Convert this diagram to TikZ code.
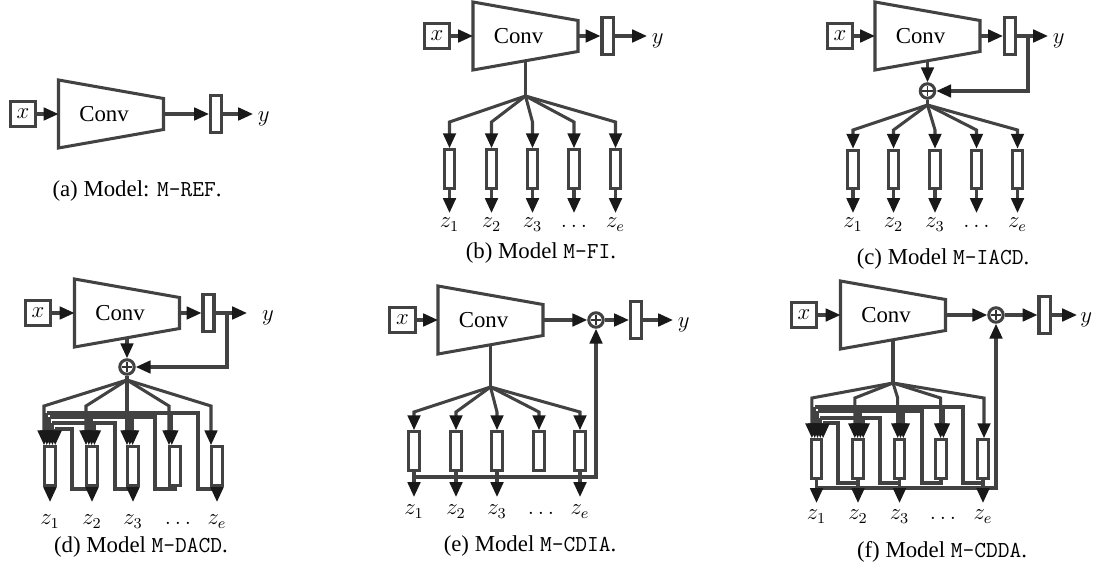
\documentclass[tikz,border=0pt]{standalone}
\usepackage{fontspec}
\setmainfont{Liberation Serif}
\usetikzlibrary{arrows.meta,calc}

\tikzset{
  wire/.style={draw=black!74, line width=1.6pt},
  warr/.style={wire, -{Triangle[length=7.8pt,width=6.6pt,color=black!90]}},
  xin/.style={wire, minimum width=13.5pt, minimum height=13.2pt, inner sep=0pt},
  featbar/.style={wire, minimum width=5.8pt, minimum height=19.6pt, inner sep=0pt},
  hbox/.style={wire, minimum width=5.6pt, minimum height=20.3pt, inner sep=0pt},
  addop/.style={wire, circle, minimum size=7.6pt, inner sep=0pt,
    path picture={\draw[black!80, line width=0.8pt]
      ([xshift=-2.7pt]path picture bounding box.center) -- ([xshift=2.7pt]path picture bounding box.center)
      ([yshift=-2.7pt]path picture bounding box.center) -- ([yshift=2.7pt]path picture bounding box.center);}},
  ylab/.style={anchor=west, inner ysep=0pt, inner xsep=#1, outer sep=0pt, yshift=-2.3pt},
  zlab/.style={anchor=north, inner xsep=0pt, inner ysep=#1, outer sep=0pt, text height=5.2pt, text depth=2.4pt},
  captxt/.style={anchor=base, inner sep=0pt},
  convtxt/.style={inner sep=0pt},
}

% convolutional trunk: name, centre x, centre y
\newcommand\convunit[3]{%
  \begin{scope}[shift={(#2,#3)}]
    \draw[wire, line join=miter] (-52.5,-34) -- (52.5,-15.5) -- (52.5,15.5) -- (-52.5,34) -- cycle;
    \node[convtxt] (#1) at (-7,0) {Conv};
    \coordinate (#1-w) at (-52.5,0);
    \coordinate (#1-e) at (52.5,0);
    \coordinate (#1-s) at (0,24.75);
  \end{scope}}

\begin{document}
\begin{tikzpicture}[x=0.526pt, y=-0.526pt, font=\large]
\useasboundingbox (0,0) rectangle (1096,568);

% ---------------- (a) M-REF
\node[xin] (a-x) at (23,114) {$x$};
\convunit{a-c}{111}{114}
\node[featbar] (a-bar) at (216,114) {};
\node[ylab=2.6pt] (a-y) at (253,114) {$y$};
\draw[warr] (a-x) -- (a-c-w);
\draw[warr] (a-c-e) -- (a-bar);
\draw[warr] (a-bar) -- (a-bar -| a-y.west);
\node[captxt] (a-cap) at (137,197) {(a) Model: \texttt{M-REF}.};

% ---------------- (b) M-FI
\node[xin] (b-x) at (437,36) {$x$};
\convunit{b-c}{525.5}{36}
\node[featbar] (b-bar) at (607.5,36) {};
\node[ylab=2.6pt] (b-y) at (647,36) {$y$};
\draw[warr] (b-x) -- (b-c-w);
\draw[warr] (b-c-e) -- (b-bar);
\draw[warr] (b-bar) -- (b-bar -| b-y.west);
\coordinate (b-br) at (525.5,96);
\coordinate (b-bend) at (0,122);
\draw[wire] (b-c-s) -- (b-br);
\foreach \i/\cx/\t in {1/449.5/z_1,2/491.5/z_2,3/532.5/z_3,4/574/\dots,5/615.5/z_e}{
  \node[hbox] (b-h\i) at (\cx,169) {};
  \node[zlab=2.6pt] (b-z\i) at (\cx,213) {$\t$};
  \draw[warr] (b-br) -- (b-h\i.north |- b-bend) -- (b-h\i.north);
  \draw[warr] (b-h\i) -- (b-z\i);
}
\node[captxt] (b-cap) at (541,258) {(b) Model \texttt{M-FI}.};

% ---------------- (c) M-IACD
\node[xin] (c-x) at (840,36) {$x$};
\convunit{c-c}{927.5}{36}
\node[featbar] (c-bar) at (1010,36) {};
\node[ylab=2.6pt] (c-y) at (1048,36) {$y$};
\node[addop] (c-sum) at (927.5,91) {};
\draw[warr] (c-x) -- (c-c-w);
\draw[warr] (c-c-e) -- (c-bar);
\draw[warr] (c-bar) -- (c-bar -| c-y.west);
\coordinate (c-tap) at (1028,36);
\draw[warr] (c-tap) |- (c-sum);
\draw[warr] (c-c-s) -- (c-sum);
\coordinate (c-br) at (927.5,105);
\coordinate (c-bend) at (0,130);
\draw[wire] (c-sum) -- (c-br);
\foreach \i/\cx/\t in {1/853/z_1,2/893.5/z_2,3/935/z_3,4/976.5/\dots,5/1017.5/z_e}{
  \node[hbox] (c-h\i) at (\cx,169.5) {};
  \node[zlab=2.6pt] (c-z\i) at (\cx,213) {$\t$};
  \draw[warr] (c-br) -- (c-h\i.north |- c-bend) -- (c-h\i.north);
  \draw[warr] (c-h\i) -- (c-z\i);
}
\node[captxt] (c-cap) at (943,264) {(c) Model \texttt{M-IACD}.};

% ---------------- (d) M-DACD
\node[xin] (d-x) at (38,313) {$x$};
\convunit{d-c}{127}{313}
\node[featbar] (d-bar) at (208.5,313) {};
\node[ylab=7.9pt] (d-y) at (247,313) {$y$};
\node[addop] (d-sum) at (127,367) {};
\draw[warr] (d-x) -- (d-c-w);
\draw[warr] (d-c-e) -- (d-bar);
\draw[warr] (d-bar) -- (d-bar -| d-y.west);
\coordinate (d-tap) at (227,313);
\draw[warr] (d-tap) |- (d-sum);
\draw[warr] (d-c-s) -- (d-sum);
\coordinate (d-br) at (127,380);
\coordinate (d-bend) at (0,406);
\draw[wire] (d-sum) -- (d-br);
\foreach \j/\cx in {1/50,2/92,3/133,4/175,5/217}{
  \node[hbox] (d-h\j) at (\cx,466) {};
  \foreach \i in {0,...,4}{
    \coordinate (d-a\j-\i) at ($(d-h\j.north)+(-6+2.8*\i,0)$);
  }
  \draw[warr] (d-br) -- (d-a\j-0 |- d-bend) -- (d-a\j-0);
}
\foreach \k/\v/\h in {5/198/413,4/155/417,3/115/423,2/72/429}{
  \pgfmathtruncatemacro\ii{6-\k}
  \pgfmathtruncatemacro\last{\k-1}
  \draw[wire] (d-h\k.south) -- (d-h\k.south |- 0,489) -- (\v,489) -- (\v,\h) -- (d-a1-\ii |- 0,\h);
  \foreach \j in {1,...,\last}{
    \draw[warr] (d-a\j-\ii |- 0,\h) -- (d-a\j-\ii);
  }
}
\foreach \i/\cx/\t in {1/50/z_1,2/92/z_2,3/133/z_3,5/217/z_e}{
  \node[zlab=6.8pt] (d-z\i) at (\cx,502) {$\t$};
  \draw[warr] (d-h\i) -- (d-z\i);
}
\node[zlab=6.8pt] (d-z4) at (178,502) {$\dots$};
\node[captxt] (d-cap) at (141,552) {(d) Model \texttt{M-DACD}.};

% ---------------- (e) M-CDIA
\node[xin] (e-x) at (402.5,320) {$x$};
\convunit{e-c}{490.5}{320}
\node[addop] (e-sum) at (596,320) {};
\node[featbar] (e-bar) at (636,320) {};
\node[ylab=2.6pt] (e-y) at (673,320) {$y$};
\draw[warr] (e-x) -- (e-c-w);
\draw[warr] (e-c-e) -- (e-sum);
\draw[warr] (e-sum) -- (e-bar);
\draw[warr] (e-bar) -- (e-bar -| e-y.west);
\coordinate (e-br) at (490.5,387);
\coordinate (e-bend) at (0,412);
\draw[wire] (e-c-s) -- (e-br);
\foreach \i/\cx in {1/414,2/456,3/497,4/539,5/580}{
  \node[hbox] (e-h\i) at (\cx,451) {};
  \draw[warr] (e-br) -- (e-h\i.north |- e-bend) -- (e-h\i.north);
}
\draw[warr] (e-h1.south |- 0,477) -| (e-sum);
\foreach \i/\cx/\t in {1/414/z_1,2/456/z_2,3/497/z_3,5/580/z_e}{
  \node[zlab=4.2pt] (e-z\i) at (\cx,497) {$\t$};
  \draw[warr] (e-h\i) -- (e-z\i);
}
\node[zlab=4.2pt] (e-z4) at (541,497) {$\dots$};
\node[captxt] (e-cap) at (530,551) {(e) Model \texttt{M-CDIA}.};

% ---------------- (f) M-CDDA
\node[xin] (f-x) at (804,315) {$x$};
\convunit{f-c}{893}{315}
\node[addop] (f-sum) at (996,315) {};
\node[featbar] (f-bar) at (1044.5,315) {};
\node[ylab=1.7pt] (f-y) at (1077,315) {$y$};
\draw[warr] (f-x) -- (f-c-w);
\draw[warr] (f-c-e) -- (f-sum);
\draw[warr] (f-sum) -- (f-bar);
\draw[warr] (f-bar) -- (f-bar -| f-y.west);
\coordinate (f-br) at (893,383);
\coordinate (f-bend) at (0,398);
\draw[wire] (f-c-s) -- (f-br);
\foreach \j/\cx in {1/816.5,2/858,3/899.5,4/941,5/983}{
  \node[hbox] (f-h\j) at (\cx,459) {};
  \foreach \i in {0,...,4}{
    \coordinate (f-a\j-\i) at ($(f-h\j.north)+(1+2.8*\i-1.4*5+1.4*\j,0)$);
  }
  \draw[warr] (f-br) -- (f-a\j-0 |- f-bend) -- (f-a\j-0);
}
\foreach \k/\v/\h in {5/963/407,4/922/411,3/880/418,2/838/423}{
  \pgfmathtruncatemacro\ii{6-\k}
  \pgfmathtruncatemacro\last{\k-1}
  \draw[wire] (f-h\k.south) -- (f-h\k.south |- 0,483) -- (\v,483) -- (\v,\h) -- (f-a1-\ii |- 0,\h);
  \foreach \j in {1,...,\last}{
    \draw[warr] (f-a\j-\ii |- 0,\h) -- (f-a\j-\ii);
  }
}
\draw[warr] (f-h1.south |- 0,488) -| (f-sum);
\foreach \i/\cx/\t in {1/816.5/z_1,2/858/z_2,3/899.5/z_3,5/983/z_e}{
  \node[zlab=3.7pt] (f-z\i) at (\cx,503) {$\t$};
  \draw[warr] (f-h\i) -- (f-z\i);
}
\node[zlab=3.7pt] (f-z4) at (943,503) {$\dots$};
\node[captxt] (f-cap) at (942,557) {(f) Model \texttt{M-CDDA}.};
\end{tikzpicture}
\end{document}
